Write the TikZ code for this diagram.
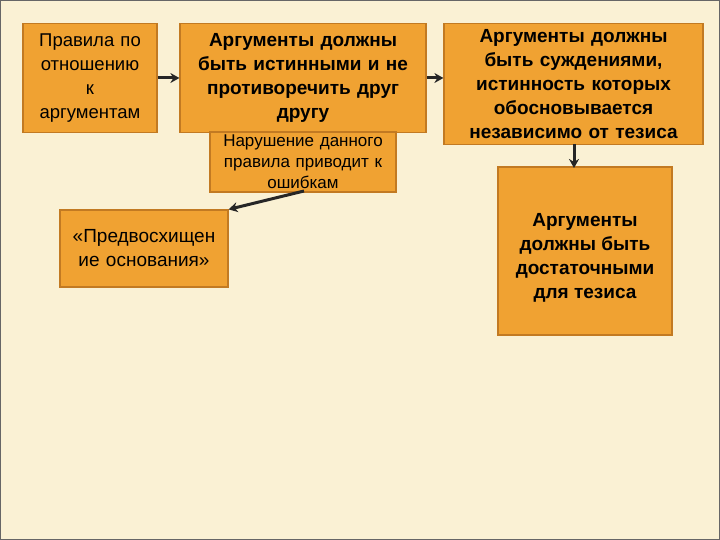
\documentclass[tikz,border=0pt]{standalone}
\usepackage{fontspec}
\setmainfont{Liberation Sans}
\usetikzlibrary{arrows.meta}
\definecolor{bg}{HTML}{FAF1D4}
\definecolor{boxf}{HTML}{F0A232}
\definecolor{boxd}{HTML}{C27A22}
\tikzset{
  bx/.style={draw=boxd,line width=1.2pt,fill=boxf,inner sep=1pt,align=center},
  ar/.style={-{Stealth[length=9pt,width=10pt]},line width=3pt,black!85}
}
\begin{document}
\begin{tikzpicture}[x=1pt,y=-1pt]
\useasboundingbox (0,0) rectangle (720,540);
\fill[bg] (0,0) rectangle (720,540);
\draw[black!60,line width=1pt] (0.5,0.5) rectangle (719.5,539.5);
\node[bx,minimum width=134pt,minimum height=109pt,font=\fontsize{18.5}{24}\selectfont,text width=132pt] (a) at (90,78) {Правила по\\отношению\\к\\аргументам};
\node[bx,minimum width=246pt,minimum height=109pt,font=\bfseries\fontsize{19}{24}\selectfont,text width=244pt] (b) at (303,78) {Аргументы должны\\быть истинными и не\\противоречить друг\\другу};
\node[bx,minimum width=259pt,minimum height=121pt,font=\bfseries\fontsize{19}{24}\selectfont,text width=257pt] (c) at (573.5,84) {Аргументы должны\\быть суждениями,\\истинность которых\\обосновывается\\независимо от тезиса};
\node[bx,minimum width=186pt,minimum height=60pt,font=\fontsize{17}{21}\selectfont,text width=184pt] (d) at (303,162) {Нарушение данного\\правила приводит к\\ошибкам};
\node[bx,minimum width=168pt,minimum height=77pt,font=\fontsize{19}{24}\selectfont,text width=166pt] (e) at (144,248.5) {«Предвосхищен\\ие основания»};
\node[bx,minimum width=174pt,minimum height=168pt,font=\bfseries\fontsize{19}{24}\selectfont,text width=172pt] (f) at (585,251) {};
\node[font=\bfseries\fontsize{19}{24}\selectfont,align=center] (ft) at (585,258) {Аргументы\\должны быть\\достаточными\\для тезиса};
\draw[ar] (a.east) -- (b.west);
\draw[ar] (b.east) -- (b.east -| c.west);
\draw[ar] (574,144) -- (574,168);
\coordinate (ds) at (304,191);
\draw[ar] (ds) -- (e.north east);
\end{tikzpicture}
\end{document}
